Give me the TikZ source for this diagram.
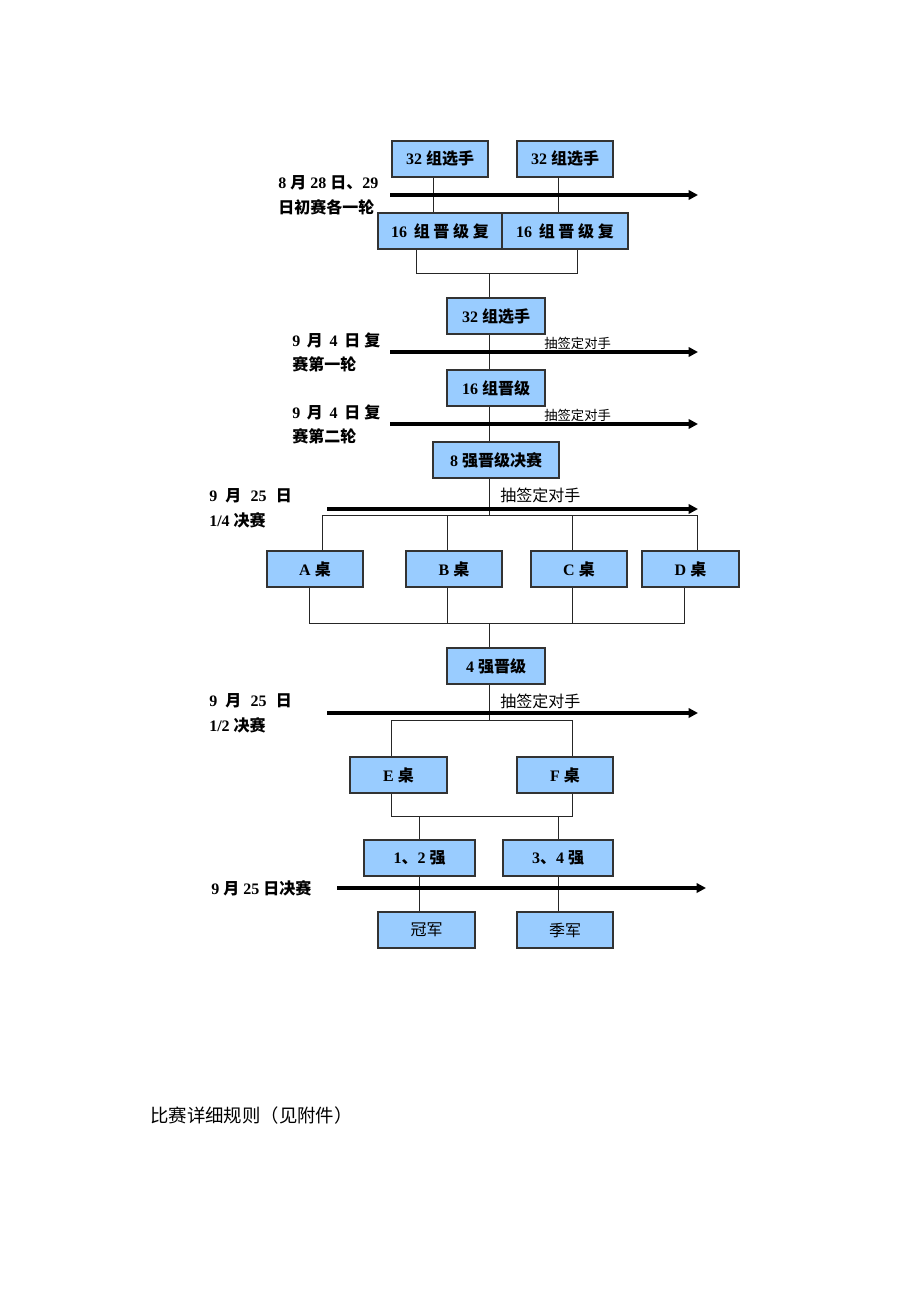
\documentclass[tikz,border=0pt]{standalone}
\usepackage{fontspec}
\setmainfont{Liberation Serif}
\newfontfamily\cjk{Noto Sans CJK SC}
\newcommand\zh[1]{{\cjk #1}}
\usetikzlibrary{arrows.meta}
\definecolor{boxblue}{HTML}{99CCFF}
\definecolor{edgegray}{HTML}{333333}
\begin{document}
\begin{tikzpicture}[x=0.75pt,y=-0.75pt,
  box/.style={draw=edgegray, fill=boxblue, line width=1.1pt, minimum width={0.75pt*#1}, minimum height=27pt, inner sep=0pt, font=\fontsize{12}{14}\selectfont\bfseries},
  plainbox/.style={box=#1, font=\fontsize{12}{14}\selectfont},
  conn/.style={draw=black!85, line width=0.7pt},
  timeline/.style={line width=2.6pt, -{Triangle[length=7pt,width=7pt]}},
  lbl/.style={anchor=west, inner sep=0pt, font=\fontsize{12}{14}\selectfont\bfseries},
  draw1/.style={inner sep=0pt, font=\fontsize{10}{12}\selectfont},
  draw2/.style={anchor=west, inner sep=0pt, font=\fontsize{12}{14}\selectfont}]
\useasboundingbox[fill=white] (0,0) rectangle (920,1302);

% boxes
\node[box=96] (s1) at (440,159) {32 \zh{组选手}};
\node[box=96] (s2) at (565,159) {32 \zh{组选手}};
\node[box=124] (q1) at (440,231) {16\, \zh{组 晋 级 复}};
\node[box=126] (q2) at (565,231) {16\, \zh{组 晋 级 复}};
\node[box=98] (m1) at (496,316) {32 \zh{组选手}};
\node[box=98] (m2) at (496,388) {16 \zh{组晋级}};
\node[box=126] (m3) at (496,460) {8 \zh{强晋级决赛}};
\node[box=96] (A) at (315,569) {A \zh{桌}};
\node[box=96] (B) at (454,569) {B \zh{桌}};
\node[box=96] (C) at (579,569) {C \zh{桌}};
\node[box=97] (D) at (690.5,569) {D \zh{桌}};
\node[box=98] (m4) at (496,666) {4 \zh{强晋级}};
\node[box=97] (E) at (398.5,775) {E \zh{桌}};
\node[box=96] (F) at (565,775) {F \zh{桌}};
\node[box=111] (t12) at (419.5,858) {1\zh{、}2 \zh{强}};
\node[box=110] (t34) at (558,858) {3\zh{、}4 \zh{强}};
\node[plainbox=97] (champ) at (426.5,930) {\zh{冠军}};
\node[plainbox=96] (third) at (565,930) {\zh{季军}};

% junction coordinates
\coordinate (cx) at (489,0);
\coordinate (v1) at (433,0);
\coordinate (v2) at (558,0);
\coordinate (b1l) at (416,273);
\coordinate (b1r) at (577,273);
\coordinate (b1m) at (489,273);
\coordinate (b2m) at (489,515);
\coordinate (b2a) at (322,515);
\coordinate (b2b) at (447,515);
\coordinate (b2c) at (572,515);
\coordinate (b2d) at (697,515);
\coordinate (b3a) at (309,623);
\coordinate (b3b) at (447,623);
\coordinate (b3c) at (572,623);
\coordinate (b3d) at (684,623);
\coordinate (b3m) at (489,623);
\coordinate (b4m) at (489,720);
\coordinate (b4l) at (391,720);
\coordinate (b4r) at (572,720);
\coordinate (b5l) at (391,816);
\coordinate (b5r) at (572,816);
\coordinate (b5a) at (419,816);
\coordinate (b5b) at (558,816);

% connectors
\draw[conn] (s1.south -| v1) -- (q1.north -| v1);
\draw[conn] (s2.south -| v2) -- (q2.north -| v2);
\draw[conn] (q1.south -| b1l) -- (b1l) -- (b1r) -- (q2.south -| b1r);
\draw[conn] (b1m) -- (m1.north -| b1m);
\draw[conn] (m1.south -| cx) -- (m2.north -| cx);
\draw[conn] (m2.south -| cx) -- (m3.north -| cx);
\draw[conn] (m3.south -| cx) -- (b2m);
\draw[conn] (A.north -| b2a) -- (b2a) -- (b2d) -- (D.north -| b2d);
\draw[conn] (b2b) -- (B.north -| b2b);
\draw[conn] (b2c) -- (C.north -| b2c);
\draw[conn] (A.south -| b3a) -- (b3a) -- (b3d) -- (D.south -| b3d);
\draw[conn] (B.south -| b3b) -- (b3b);
\draw[conn] (C.south -| b3c) -- (b3c);
\draw[conn] (b3m) -- (m4.north -| b3m);
\draw[conn] (m4.south -| cx) -- (b4m);
\draw[conn] (E.north -| b4l) -- (b4l) -- (b4r) -- (F.north -| b4r);
\draw[conn] (E.south -| b5l) -- (b5l) -- (b5r) -- (F.south -| b5r);
\draw[conn] (b5a) -- (t12.north -| b5a);
\draw[conn] (b5b) -- (t34.north -| b5b);
\draw[conn] (t12.south -| b5a) -- (champ.north -| b5a);
\draw[conn] (t34.south -| b5b) -- (third.north -| b5b);

% time lines
\coordinate (a1s) at (390,195); \coordinate (a1e) at (698,195);
\coordinate (a2s) at (390,352); \coordinate (a2e) at (698,352);
\coordinate (a3s) at (390,424); \coordinate (a3e) at (698,424);
\coordinate (a4s) at (327,509); \coordinate (a4e) at (698,509);
\coordinate (a5s) at (327,713); \coordinate (a5e) at (698,713);
\coordinate (a6s) at (337,888); \coordinate (a6e) at (706,888);
\draw[timeline] (a1s) -- (a1e);
\draw[timeline] (a2s) -- (a2e);
\draw[timeline] (a3s) -- (a3e);
\draw[timeline] (a4s) -- (a4e);
\draw[timeline] (a5s) -- (a5e);
\draw[timeline] (a6s) -- (a6e);

% draw labels
\node[draw1, anchor=south west] (d1) at (544,349.5) {\zh{抽签定对手}};
\node[draw1, anchor=south west] (d2) at (544,421.5) {\zh{抽签定对手}};
\node[draw2] (d3) at (500,495) {\zh{抽签定对手}};
\node[draw2] (d4) at (500,701) {\zh{抽签定对手}};

% left labels
\node[lbl] (l1a) at (278,183) {8 \zh{月} 28 \zh{日、}29};
\node[lbl] (l1b) at (278,207) {\zh{日初赛各一轮}};
\node[lbl] (l2a) at (292,340) {9\hspace{5pt}\zh{月}\hspace{5pt}4\hspace{5pt}\zh{日}\hspace{3pt}\zh{复}};
\node[lbl] (l2b) at (292,364) {\zh{赛第一轮}};
\node[lbl] (l3a) at (292,412) {9\hspace{5pt}\zh{月}\hspace{5pt}4\hspace{5pt}\zh{日}\hspace{3pt}\zh{复}};
\node[lbl] (l3b) at (292,436) {\zh{赛第二轮}};
\node[lbl] (l4a) at (209,496) {9\hspace{6pt}\zh{月}\hspace{7pt}25\hspace{7pt}\zh{日}};
\node[lbl] (l4b) at (209,520) {1/4 \zh{决赛}};
\node[lbl] (l5a) at (209,701) {9\hspace{6pt}\zh{月}\hspace{7pt}25\hspace{7pt}\zh{日}};
\node[lbl] (l5b) at (209,725) {1/2 \zh{决赛}};
\node[lbl] (l6) at (211,888) {9 \zh{月} 25 \zh{日决赛}};

% footer
\node[anchor=west, inner sep=0pt, font=\fontsize{13.8}{16}\selectfont] (foot) at (150,1115) {\zh{比赛详细规则（见附件）}};
\end{tikzpicture}
\end{document}
